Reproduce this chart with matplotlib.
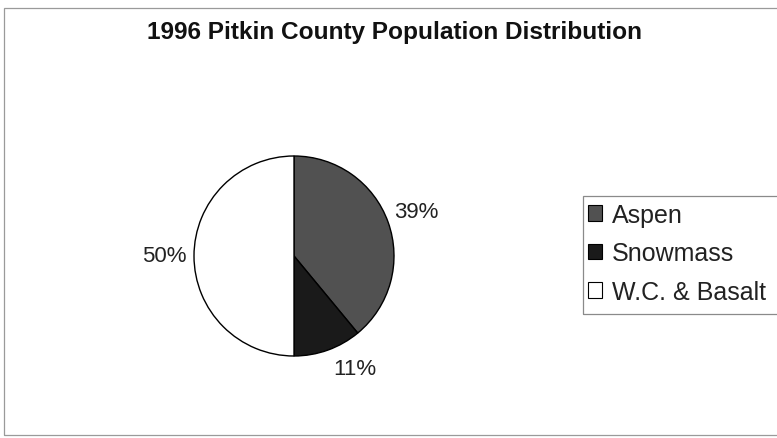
import matplotlib
matplotlib.use("Agg")
import matplotlib.pyplot as plt
from matplotlib.patches import Patch, Rectangle

plt.rcParams['font.family'] = ['Liberation Sans', 'DejaVu Sans']

# Data
title = "1996 Pitkin County Population Distribution"
categories = ["Aspen", "Snowmass", "W.C. & Basalt"]
values = [39, 11, 50]
colors = ["#515151", "#1a1a1a", "#ffffff"]

W, H = 777, 439
fig = plt.figure(figsize=(W / 100, H / 100), dpi=100)
fig.patch.set_facecolor("white")

# Outer chart frame
fig.patches.append(Rectangle((4 / W, 1 - 436 / H), (W + 20) / W, (436 - 9) / H,
                             transform=fig.transFigure, fill=False,
                             edgecolor="#9a9a9a", lw=0.9))

# Title
fig.text(395 / W, 1 - 33 / H, title, ha="center", va="center",
         fontsize=17.6, fontweight="bold", color="#111111")

# Pie
cx, cy, r = 294, 257, 100
ax = fig.add_axes([(cx - r) / W, 1 - (cy + r) / H, 2 * r / W, 2 * r / H])
wedges, texts, autotexts = ax.pie(
    values, colors=colors, startangle=90, counterclock=False,
    autopct='%1.0f%%', pctdistance=1.30,
    wedgeprops=dict(edgecolor="black", linewidth=1.0),
    textprops=dict(fontsize=16, color="#222222"))
autotexts[1].set_position((0.61, -1.13))
ax.set_xlim(-1, 1)
ax.set_ylim(-1, 1)
ax.set_aspect("equal")

# Legend frame
fig.patches.append(Rectangle((583 / W, 1 - 315 / H), 250 / W, (315 - 197) / H,
                             transform=fig.transFigure, fill=False,
                             edgecolor="#8a8a8a", lw=0.9))

handles = [Patch(facecolor=c, edgecolor="black", linewidth=0.8) for c in colors]
leg = fig.legend(handles, categories, loc="upper left",
                 bbox_to_anchor=(588 / W, 1 - 204 / H),
                 frameon=False, fontsize=18, borderaxespad=0, borderpad=0,
                 handlelength=0.55, handleheight=0.6, handletextpad=0.4,
                 labelspacing=0.57)
for t in leg.get_texts():
    t.set_color("#222222")

fig.savefig("out.png", dpi=100, facecolor="white")
